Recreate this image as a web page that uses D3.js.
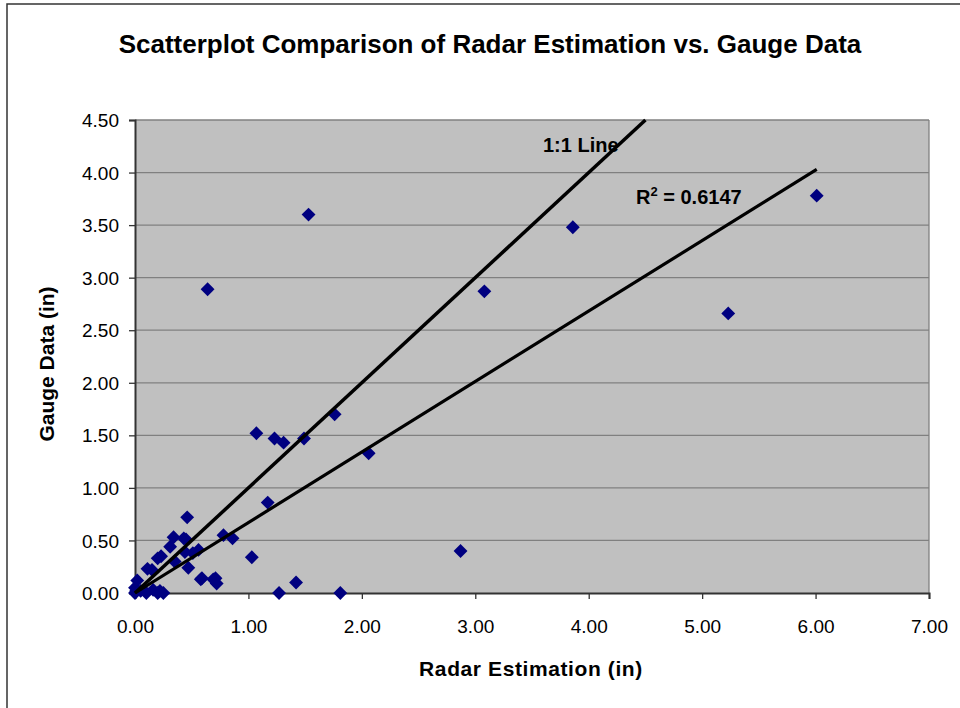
<!DOCTYPE html>
<html>
<head>
<title>Radar vs Gauge | D3</title>
<style>
    body { margin: 0; background: #fff; font-family: "Liberation Sans", Arial, sans-serif; }
    .grid line { stroke: #808080; stroke-width: 1.3; }
    .axis text { font-size: 19px; fill: #000; font-family: "Liberation Sans", Arial, sans-serif; }
</style>
<script src="https://d3js.org/d3.v7.min.js" charset="utf-8"></script>
</head>
<body>
<script>
// radar estimate (in) and matching gauge reading (in)
var radar = [6.01, 5.23, 3.86, 3.08, 2.87, 1.53, 0.64, 2.06, 1.76, 1.49, 1.31, 1.23, 1.07, 1.17, 1.03,
             1.42, 1.27, 1.81, 0.86, 0.78, 0.72, 0.69, 0.58, 0.56, 0.51, 0.46, 0.45, 0.47, 0.44, 0.34,
             0.43, 0.35, 0.31, 0.20, 0.23, 0.15, 0.11, 0.02, 0.00, 0.00, 0.10, 0.16, 0.22, 0.25, 0.20,
             0.05, 0.01, 0.59, 0.71];
var gauge = [3.78, 2.66, 3.48, 2.87, 0.40, 3.60, 2.89, 1.33, 1.70, 1.47, 1.43, 1.47, 1.52, 0.86, 0.34,
             0.10, 0.00, 0.00, 0.52, 0.55, 0.09, 0.13, 0.13, 0.41, 0.38, 0.72, 0.51, 0.24, 0.39, 0.53,
             0.52, 0.30, 0.44, 0.33, 0.35, 0.22, 0.23, 0.12, 0.05, 0.00, 0.00, 0.03, 0.02, 0.00, 0.00,
             0.02, 0.02, 0.14, 0.14];
var xTicks = [0, 1, 2, 3, 4, 5, 6, 7];
var yTicks = [0, 0.5, 1, 1.5, 2, 2.5, 3, 3.5, 4, 4.5];
var oneToOne = [[0, 0], [4.5, 4.5]];
var trend = [[0, 0], [6.01, 4.03]];

var width = 960, height = 708;
var plotL = 135, plotR = 929, plotT = 120, plotB = 593;

var svg = d3.select("body").append("svg")
    .attr("width", width)
    .attr("height", height);

// outer chart frame
svg.append("rect")
    .attr("x", 7).attr("y", 4)
    .attr("width", 960).attr("height", 720)
    .attr("fill", "none").attr("stroke", "#333").attr("stroke-width", 1.5);

var x = d3.scaleLinear().domain([0, 7]).range([plotL, plotR]);
var y = d3.scaleLinear().domain([0, 4.5]).range([plotB, plotT]);

svg.append("rect")
    .attr("x", plotL).attr("y", plotT)
    .attr("width", plotR - plotL).attr("height", plotB - plotT)
    .attr("fill", "#c0c0c0");

svg.append("g").attr("class", "grid")
    .selectAll("line").data(yTicks.slice(1)).enter().append("line")
    .attr("x1", plotL).attr("x2", plotR)
    .attr("y1", d => y(d)).attr("y2", d => y(d));

svg.append("line")
    .attr("x1", plotR).attr("x2", plotR).attr("y1", plotT).attr("y2", plotB)
    .attr("stroke", "#808080").attr("stroke-width", 1.3);

var xAxis = svg.append("g").attr("class", "axis")
    .attr("transform", "translate(0," + plotB + ")")
    .call(d3.axisBottom(x).tickValues(xTicks).tickFormat(d3.format(".2f")).tickSizeOuter(0).tickSize(6).tickPadding(21));
var yAxis = svg.append("g").attr("class", "axis")
    .attr("transform", "translate(" + plotL + ",0)")
    .call(d3.axisLeft(y).tickValues(yTicks).tickFormat(d3.format(".2f")).tickSizeOuter(0).tickSize(6).tickPadding(10));
svg.selectAll(".axis path").attr("stroke", "#333").attr("stroke-width", 2);
svg.selectAll(".axis line").attr("stroke", "#333").attr("stroke-width", 1.3);
yAxis.selectAll("text").attr("dy", "0.35em");

var line = d3.line().x(d => x(d[0])).y(d => y(d[1]));

var pts = radar.map((r, i) => [r, gauge[i]]);
svg.append("g").selectAll("path").data(pts).enter().append("path")
    .attr("d", d3.symbol().type(d3.symbolSquare).size(96))
    .attr("transform", d => "translate(" + x(d[0]) + "," + y(d[1]) + ") rotate(45)")
    .attr("fill", "#000080");

svg.append("path").datum(oneToOne).attr("d", line)
    .attr("fill", "none").attr("stroke", "#000").attr("stroke-width", 3.5);
svg.append("path").datum(trend).attr("d", line)
    .attr("fill", "none").attr("stroke", "#000").attr("stroke-width", 3.2);

svg.append("text").attr("x", 543).attr("y", 152)
    .attr("font-size", 20).attr("font-weight", "bold").text("1:1 Line");
var r2 = svg.append("text").attr("x", 636).attr("y", 204)
    .attr("font-size", 20).attr("font-weight", "bold");
r2.append("tspan").text("R");
r2.append("tspan").attr("font-size", 13).attr("dy", -8).text("2");
r2.append("tspan").attr("dy", 8).text(" = 0.6147");

svg.append("text").attr("x", 490).attr("y", 53)
    .attr("text-anchor", "middle").attr("font-size", 26).attr("font-weight", "bold")
    .text("Scatterplot Comparison of Radar Estimation vs. Gauge Data");
svg.append("text").attr("x", 531).attr("y", 676)
    .attr("text-anchor", "middle").attr("font-size", 21).attr("font-weight", "bold")
    .attr("letter-spacing", 0.6)
    .text("Radar Estimation (in)");
svg.append("text").attr("transform", "translate(54,364) rotate(-90)")
    .attr("text-anchor", "middle").attr("font-size", 21).attr("font-weight", "bold")
    .text("Gauge Data (in)");
</script>
</body>
</html>
